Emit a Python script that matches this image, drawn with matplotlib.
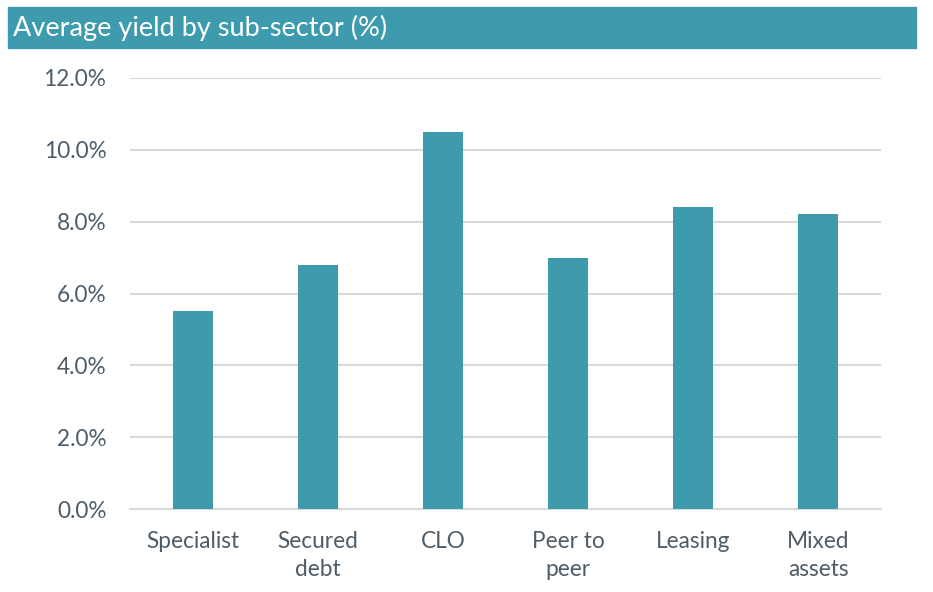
import matplotlib

matplotlib.use("Agg")
from matplotlib import pyplot as plt
from matplotlib.patches import Rectangle
from matplotlib.ticker import FuncFormatter

categories = ["Specialist", "Secured\ndebt", "CLO", "Peer to\npeer", "Leasing", "Mixed\nassets"]
yields = [5.5, 6.8, 10.5, 7.0, 8.4, 8.2]
y_ticks = [0, 2, 4, 6, 8, 10, 12]

teal = "#3E9BAE"
text_color = "#4E5C67"
grid_grey = "#D9D9D9"

plt.rcParams["font.family"] = ["Lato", "DejaVu Sans"]

fig = plt.figure(figsize=(9.33, 5.92), dpi=100)
ax = fig.add_axes([130 / 933, 1 - 509 / 592, 751 / 933, 431 / 592])

positions = list(range(len(categories)))
ax.bar(positions, yields, width=0.32, color=teal, zorder=3)

ax.set_xlim(-0.5, len(categories) - 0.5)
ax.set_ylim(0, 12)
ax.set_yticks(y_ticks)
ax.yaxis.set_major_formatter(FuncFormatter(lambda v, _: f"{v:.1f}%"))
ax.set_xticks(positions)
ax.set_xticklabels(categories, linespacing=1.45)

ax.tick_params(axis="both", length=0, labelsize=16.3, colors=text_color)
ax.tick_params(axis="x", pad=15.5)
ax.tick_params(axis="y", pad=17)
ax.grid(axis="y", color=grid_grey, linewidth=1.5, zorder=0)
for side in ["top", "right", "left"]:
    ax.spines[side].set_visible(False)
ax.spines["bottom"].set_color(grid_grey)
ax.spines["bottom"].set_linewidth(1.5)

# title banner
fig.patches.append(
    Rectangle((8 / 933, 1 - 48 / 592), 908 / 933, 41 / 592,
              transform=fig.transFigure, color=teal, zorder=0)
)
fig.text(13 / 933, 1 - 28 / 592, "Average yield by sub-sector (%)",
         color="white", fontsize=19.5, va="center", ha="left")

fig.savefig("out.png", dpi=100)
